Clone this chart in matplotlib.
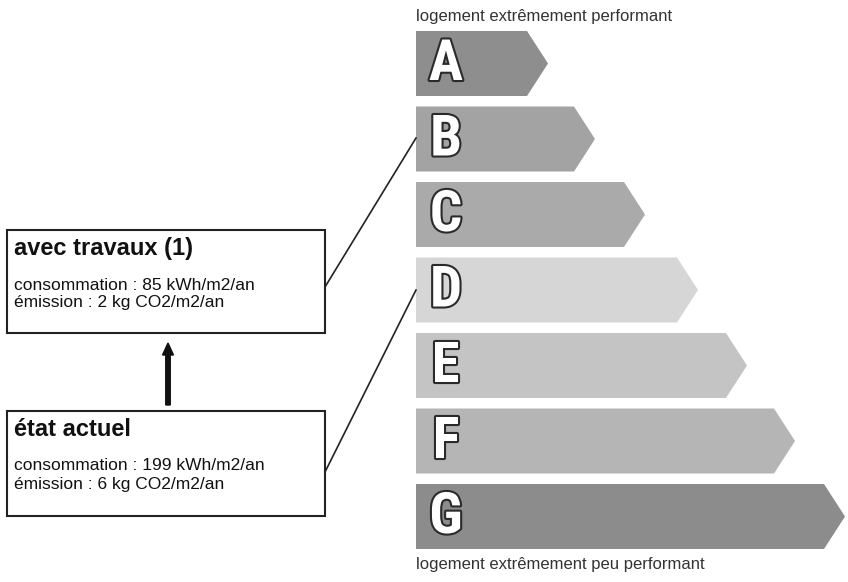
import matplotlib
matplotlib.use("Agg")
from matplotlib import pyplot as plt
from matplotlib.patches import Polygon, Rectangle, FancyArrow
import matplotlib.patheffects as pe

# classes energie et longueur des fleches (px)
grades = ["A", "B", "C", "D", "E", "F", "G"]
bar_lengths = [132, 179, 229, 282, 331, 379, 429]
bar_colors = ["#8e8e8e", "#a3a3a3", "#aaaaaa", "#d6d6d6", "#c4c4c4", "#b5b5b5", "#8c8c8c"]

label_top = "logement extrêmement performant"
label_bottom = "logement extrêmement peu performant"

after_title = "avec travaux (1)"
after_lines = ["consommation : 85 kWh/m2/an", "émission : 2 kg CO2/m2/an"]
after_grade = "B"
now_title = "état actuel"
now_lines = ["consommation : 199 kWh/m2/an", "émission : 6 kg CO2/m2/an"]
now_grade = "D"

W, H = 848, 582
fig = plt.figure(figsize=(W / 100, H / 100), dpi=100)
ax = fig.add_axes([0, 0, 1, 1])
ax.set_xlim(0, W)
ax.set_ylim(H, 0)
ax.axis("off")

x0 = 416
top0 = 31
pitch = 75.5
bh = 65
tip = 21

centers = {}
for i, (g, L, c) in enumerate(zip(grades, bar_lengths, bar_colors)):
    y1 = top0 + i * pitch
    y2 = y1 + bh
    xe = x0 + L
    ax.add_patch(Polygon([(x0, y1), (xe - tip, y1), (xe, (y1 + y2) / 2),
                          (xe - tip, y2), (x0, y2)], closed=True,
                         facecolor=c, edgecolor="none"))
    ax.text(446, (y1 + y2) / 2 + 1, g, ha="center", va="center",
            fontsize=41, fontweight="bold",
            family=["Roboto Condensed", "Liberation Sans"], color="white",
            path_effects=[pe.withStroke(linewidth=3, foreground="#2a2a2a")])
    centers[g] = (y1 + y2) / 2

ax.text(x0, 17, label_top, ha="left", va="center", fontsize=12,
        family="Liberation Sans", color="#333333")
ax.text(x0, 564, label_bottom, ha="left", va="center", fontsize=12,
        family="Liberation Sans", color="#333333")


def info_box(top, bottom, title, lines, grade, y_link, y_target):
    ax.add_patch(Rectangle((7, top), 318, bottom - top, facecolor="white",
                           edgecolor="#222222", linewidth=1.5))
    ax.text(14, top + 18, title, ha="left", va="center", fontsize=17,
            fontweight="bold", family="Liberation Sans", color="#111111")
    for k, t in enumerate(lines):
        ax.text(14, top + 55 + k * 18, t, ha="left", va="center", fontsize=12.5,
                family="Liberation Sans", color="#111111")
    ax.plot([325, x0], [y_link, y_target], color="#222222", linewidth=1.2)


info_box(230, 333, after_title, after_lines, after_grade, 287, centers[after_grade] - 1)
info_box(411, 516, now_title, now_lines, now_grade, 472, centers[now_grade])

ax.add_patch(FancyArrow(168, 405, 0, -62, width=4.5, head_width=11,
                        head_length=12, length_includes_head=True,
                        color="#111111"))

fig.savefig("out.png", dpi=100)
